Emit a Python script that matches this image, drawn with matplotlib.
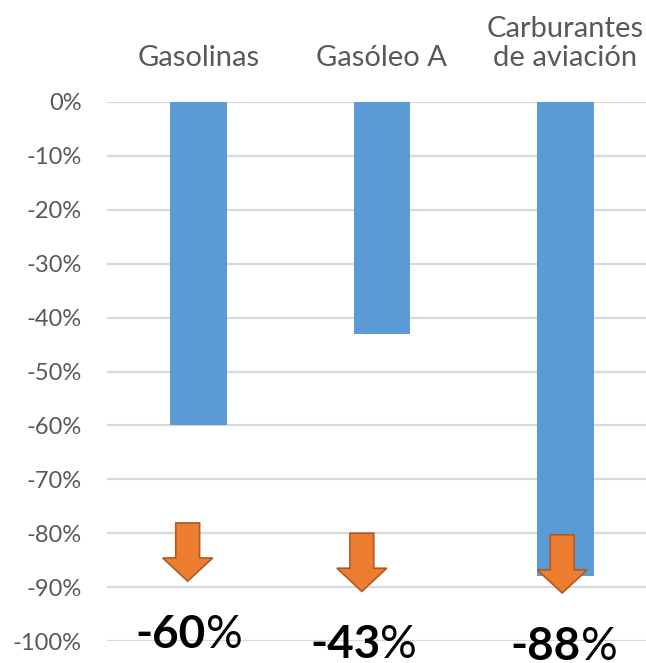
import matplotlib.pyplot as plt
import numpy as np

categories = ["Gasolinas", "Gasóleo A", "Carburantes\nde aviación"]
changes = [-0.60, -0.43, -0.88]
change_labels = ["-60", "-43", "-88"]
y_ticks = [0.0, -0.1, -0.2, -0.3, -0.4, -0.5, -0.6, -0.7, -0.8, -0.9, -1.0]
y_tick_labels = ["0%", "-10%", "-20%", "-30%", "-40%", "-50%",
                 "-60%", "-70%", "-80%", "-90%", "-100%"]

# decorative arrows under each bar (layout only)
arrow_shift = [-0.06, -0.11, -0.017]
arrow_top = [-0.781, -0.800, -0.803]

BAR_COLOR = "#5B9BD5"
ARROW_FILL = "#ED7D31"
ARROW_EDGE = "#AE5A21"
GRID_COLOR = "#D9D9D9"
TEXT_GRAY = "#595959"
FONT = ["Lato", "DejaVu Sans"]

plt.rcParams["font.family"] = FONT

fig = plt.figure(figsize=(6.46, 6.63), dpi=100)
ax = fig.add_axes([107 / 646, 22 / 663, 1 - 107 / 646, 539 / 663])

x = np.arange(len(categories))
ax.bar(x, changes, width=0.31, color=BAR_COLOR, zorder=2)

ax.set_xlim(-0.5, 2.44)
ax.set_ylim(-1.0, 0.0)
ax.set_yticks(y_ticks)
ax.set_yticklabels(y_tick_labels)
ax.set_xticks([])
ax.tick_params(axis="y", length=0, pad=18, labelsize=17, labelcolor=TEXT_GRAY)
ax.yaxis.grid(True, color=GRID_COLOR, linewidth=1.6)
ax.set_axisbelow(True)
for spine in ax.spines.values():
    spine.set_visible(False)

# category names above the zero line
for xi, name in zip(x, categories):
    ax.text(xi, 0.058, name, ha="center", va="bottom", fontsize=21,
            color=TEXT_GRAY, linespacing=1.15)

arrow_len = 0.108
for xi, shift, top, num in zip(x, arrow_shift, arrow_top, change_labels):
    ax_x = xi + shift
    ax.arrow(ax_x, top, 0, -arrow_len, width=0.13, head_width=0.272,
             head_length=0.043, length_includes_head=True,
             facecolor=ARROW_FILL, edgecolor=ARROW_EDGE, linewidth=1.2,
             zorder=3, clip_on=False)
    base = top - arrow_len - 0.124
    ax.text(ax_x + 0.10, base, num, ha="right", va="baseline",
            fontsize=33, fontweight="bold", color="black", clip_on=False)
    ax.text(ax_x + 0.10, base, "%", ha="left", va="baseline",
            fontsize=33, color="black", clip_on=False)

fig.savefig("out.png", dpi=100)
